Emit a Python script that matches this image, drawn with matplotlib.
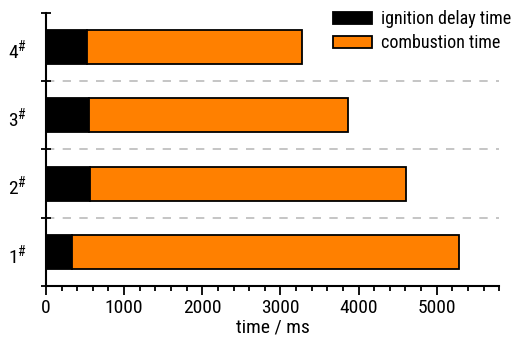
import matplotlib
matplotlib.use('Agg')
import matplotlib.pyplot as plt
from matplotlib.ticker import MultipleLocator

# samples, bottom to top
samples = ['1', '2', '3', '4']
ignition = [330, 560, 550, 530]       # ignition delay time, ms
total = [5280, 4610, 3860, 3270]      # end of combustion, ms
combustion = [t - i for t, i in zip(total, ignition)]

plt.rcParams['font.family'] = ['Roboto Condensed', 'DejaVu Sans']
plt.rcParams['mathtext.fontset'] = 'custom'
plt.rcParams['mathtext.rm'] = 'Roboto Condensed'
plt.rcParams['mathtext.default'] = 'rm'
fs = 14

fig = plt.figure(figsize=(5.15, 3.39), dpi=100)
ax = fig.add_axes([0.0893, 0.156, 0.880, 0.806])

ypos = [k + 0.5 for k in range(len(samples))]
ax.barh(ypos, ignition, height=0.5, color='black', edgecolor='black',
        linewidth=1.3, label='ignition delay time')
ax.barh(ypos, combustion, left=ignition, height=0.5, color='#ff8000',
        edgecolor='black', linewidth=1.3, label='combustion time')

for k in range(1, len(samples)):
    ax.axhline(k, color='#bbbbbb', lw=1.2, ls=(0, (5, 5)), zorder=0)

ax.set_xlim(0, 5800)
ax.set_ylim(0, 4)
ax.set_yticks(range(5))
ax.set_yticklabels([])
for y, s in zip(ypos, samples):
    ax.text(-240, y - 0.04, s + '$^{\\#}$', ha='right', va='center', fontsize=fs)

ax.xaxis.set_major_locator(MultipleLocator(1000))
ax.xaxis.set_minor_locator(MultipleLocator(200))
ax.tick_params(axis='x', which='major', direction='out', length=6.5, width=1.3, labelsize=fs, pad=3)
ax.tick_params(axis='x', which='minor', direction='out', length=3.5, width=1.3)
ax.tick_params(axis='y', direction='inout', length=7, width=1.3)
ax.set_xlabel('time / ms', fontsize=fs, labelpad=1)

for side in ['top', 'right']:
    ax.spines[side].set_visible(False)
for side in ['left', 'bottom']:
    ax.spines[side].set_linewidth(1.5)

ax.legend(loc='upper right', bbox_to_anchor=(1.027, 1.01), frameon=False, fontsize=13,
          handlelength=2.15, handleheight=0.65, handletextpad=0.5, labelspacing=0.35,
          borderpad=0, borderaxespad=0)

plt.savefig('out.png', dpi=100)
